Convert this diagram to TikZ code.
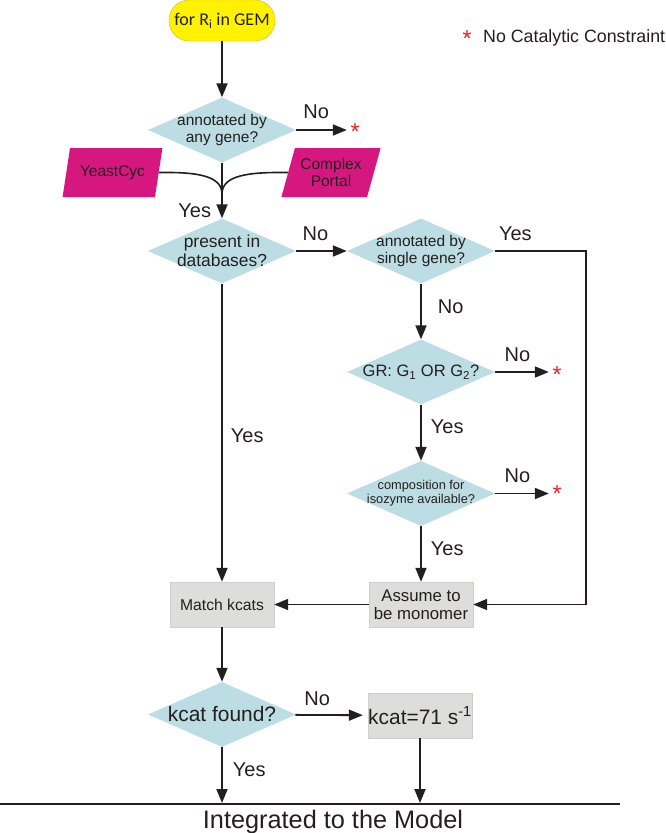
\documentclass[tikz,border=0pt]{standalone}
\usepackage{fontspec}
\setmainfont{Liberation Sans}
\newfontfamily\calfont{Carlito}
\usepackage{xcolor}
\usepackage{tikz}
\usetikzlibrary{arrows.meta,positioning,shapes.geometric}

\definecolor{dkline}{HTML}{231F20}
\definecolor{diablue}{HTML}{BCDDE3}
\definecolor{boxgray}{HTML}{DDDDDB}
\definecolor{boxedge}{HTML}{CFCFCD}
\definecolor{dbpink}{HTML}{D6177F}
\definecolor{startyel}{HTML}{FFF200}
\definecolor{startedge}{HTML}{C9C23A}
\definecolor{astred}{HTML}{ED1C24}
\newcommand{\fsz}[2]{\fontsize{#1}{#2}\selectfont}

\begin{document}
\begin{tikzpicture}[x=1pt, y=-1pt,
    start/.style={draw=startedge, fill=startyel, rounded corners=20pt,
                  minimum width=106pt, minimum height=41pt, inner sep=0pt,
                  text=dkline, font=\calfont\fsz{18}{20}},
    dec/.style={diamond, fill=diablue, aspect=2.27,
                minimum width=148pt, minimum height=65pt, inner sep=0pt},
    dtxt/.style={align=center, inner sep=0pt, text=dkline},
    proc/.style={draw=boxedge, fill=boxgray, minimum width=104pt,
                 minimum height=45pt, inner sep=0pt, align=center, text=dkline},
    src/.style={trapezium, trapezium left angle=68, trapezium right angle=112,
                trapezium stretches=true,
                fill=dbpink, minimum width=100pt, minimum height=49pt,
                inner sep=0pt, align=center, text=dkline, font=\fsz{15.5}{17}},
    arr/.style={-{Triangle[length=14pt,width=11pt]}, line width=1.8pt, draw=dkline},
    yn/.style={font=\fsz{20}{22}, text=dkline, inner sep=0pt},
    ast/.style={font=\fsz{23}{25}, text=astred, inner sep=0pt, anchor=base}
  ]
    \useasboundingbox (0,0) rectangle (666,833);

    % start and legend
    \node[start] (go) at (222,20.5) {for R\textsubscript{i} in GEM};
    \node[ast] (lgast) at (467,46.5) {*};
    \node[font=\fsz{17.8}{20}, text=dkline, inner sep=0pt, anchor=base west]
      (lgtxt) at (483,42) {No Catalytic Constraint};

    % decisions
    \node[dec, label={[dtxt, font=\fsz{15.5}{17.5}]center:{annotated by\\any gene?}}]
      (anyg) at (222,130) {};
    \node[src] (ycyc) at (112.5,172.5) {YeastCyc};
    \node[src] (cplx) at (331,172.5) {Complex\\Portal};
    \node[dec, label={[dtxt, font=\fsz{17.4}{18.5}]center:{present in\\databases?}}]
      (indb) at (222,251) {};
    \node[dec, label={[dtxt, font=\fsz{15.5}{17.5}]center:{annotated by\\single gene?}}]
      (sgl) at (421,251) {};
    \node[dec, label={[dtxt, font=\fsz{16.5}{18}]center:{GR: G\textsubscript{1} OR G\textsubscript{2}?}}]
      (gr) at (421,372) {};
    \node[dec, label={[dtxt, font=\fsz{12.8}{14}]center:{composition for\\isozyme available?}}]
      (iso) at (421,493.5) {};
    \node[dec, label={[dtxt, font=\fsz{20.9}{23}]center:{kcat found?}}]
      (found) at (222,714.5) {};

    % boxes
    \node[proc, font=\fsz{16.8}{18}] (mono) at (421,604.5) {Assume to\\be monomer};
    \node[proc, font=\fsz{15.7}{18}] (match) at (222,604.5) {Match kcats};
    \node[proc, font=\fsz{20.9}{23}] (dflt) at (420,715.5) {kcat=71 s\textsuperscript{-1}};

    % no constraint marks
    \node[ast] (na1) at (355,139) {*};
    \node[ast] (na2) at (557,382.5) {*};
    \node[ast] (na3) at (557,501) {*};

    % bottom line and text
    \draw[line width=1.8pt, dkline] (0,804) coordinate (bl) -- (620,804) coordinate (br);
    \node[font=\fsz{25.3}{28}, text=dkline, inner sep=0pt, anchor=base]
      (model) at (333,828) {Integrated to the Model};

    % connectors
    \coordinate (merge) at (222,194);
    \coordinate (rx) at (586,251);
    \draw[arr] (go) -- (anyg);
    \draw[arr, shorten >=3.5pt] (anyg.east) -- node[yn, pos=0.37, above=10pt] {No} (anyg.east -| na1.west);
    \draw[line width=1.6pt, dkline] (ycyc.east) .. controls (195,172) and (222,175) .. (merge);
    \draw[line width=1.6pt, dkline] (cplx.west) .. controls (249,172) and (222,175) .. (merge);
    \draw[arr] (anyg) -- node[yn, pos=0.86, left=10pt] {Yes} (indb);
    \draw[arr] (indb) -- node[yn, pos=0.38, above=9pt] {No} (sgl);
    \draw[arr] (sgl.east) -- node[yn, pos=0, anchor=south west, xshift=3pt, yshift=9pt] {Yes} (rx) |- (mono.east);
    \draw[arr] (sgl) -- node[yn, pos=0.41, right=16pt] {No} (gr);
    \draw[arr, shorten >=3.5pt] (gr.east) -- node[yn, pos=0.39, above=9pt] {No} (gr.east -| na2.west);
    \draw[arr] (gr) -- node[yn, pos=0.4, right=9pt] {Yes} (iso);
    \draw[arr, shorten >=3.5pt] (iso.east) -- node[yn, pos=0.39, above=10pt] {No} (iso.east -| na3.west);
    \draw[arr] (iso) -- node[yn, pos=0.4, right=9pt] {Yes} (mono);
    \draw[arr] (indb) -- node[yn, pos=0.51, right=8pt] {Yes} (match);
    \draw[arr] (mono) -- (match);
    \draw[arr] (match) -- (found);
    \draw[arr, shorten >=5pt] (found) -- node[yn, pos=0.3, above=8pt] {No} (dflt);
    \draw[arr, shorten >=1pt] (found) -- node[yn, pos=0.4, right=10pt] {Yes} (found.south |- bl);
    \draw[arr, shorten >=1pt] (dflt) -- (dflt.south |- bl);
  \end{tikzpicture}
\end{document}
